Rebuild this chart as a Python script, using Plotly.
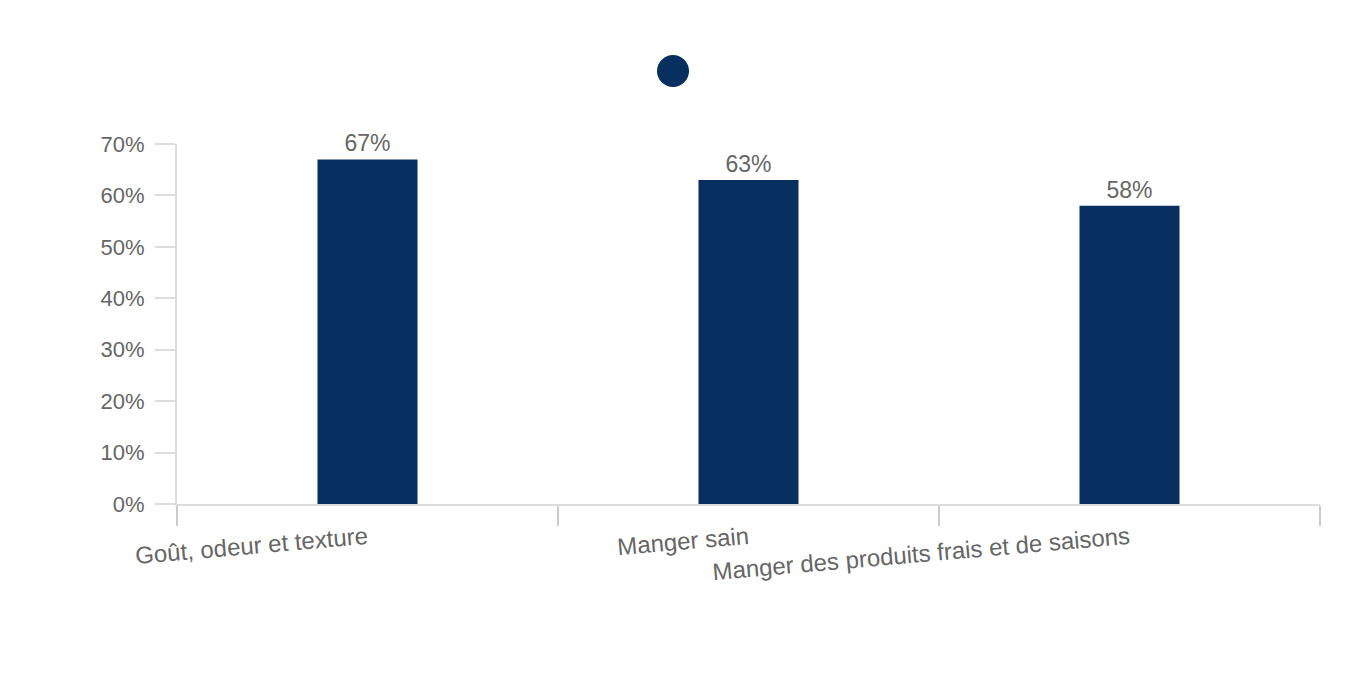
import plotly.graph_objects as go

categories = ["Goût, odeur et texture", "Manger sain", "Manger des produits frais et de saisons"]
values = [67, 63, 58]
value_labels = ["67%", "63%", "58%"]
y_ticks = [0, 10, 20, 30, 40, 50, 60, 70]
y_tick_labels = ["0%", "10%", "20%", "30%", "40%", "50%", "60%", "70%"]

NAVY = "#072f5f"
TEXT = "#666666"
AXIS = "#dddddd"
TICK = "#cccccc"
FONT = "Liberation Sans, Arial, Helvetica, sans-serif"

fig = go.Figure()
fig.add_trace(go.Bar(
    x=categories, y=values, text=value_labels, textposition="outside",
    textfont=dict(size=23, color=TEXT, family=FONT), cliponaxis=False,
    marker=dict(color=NAVY, line=dict(width=0)), width=0.2625, showlegend=False,
    hoverinfo="skip",
))

fig.update_layout(
    width=1360, height=680,
    margin=dict(l=177, r=40, t=144, b=176, autoexpand=False),
    paper_bgcolor="white", plot_bgcolor="white",
    font=dict(family=FONT, size=22, color=TEXT),
    showlegend=False,
    shapes=[dict(
        type="circle", xref="paper", yref="paper", xsizemode="pixel", ysizemode="pixel",
        xanchor=(673 - 177) / 1143, yanchor=(504 - 71) / 360,
        x0=-16, x1=16, y0=-16, y1=16,
        fillcolor=NAVY, line=dict(width=0),
    )],
)
fig.update_xaxes(
    showline=True, linecolor=AXIS, linewidth=2, showgrid=False, zeroline=False,
    ticks="outside", ticklen=20, tickcolor=TICK, tickwidth=2, tickson="boundaries",
    tickangle=-5, ticklabelstandoff=9, tickfont=dict(size=24, color=TEXT, family=FONT),
)
fig.update_yaxes(
    range=[0, 70], tickvals=y_ticks, ticktext=y_tick_labels,
    showline=True, linecolor=AXIS, linewidth=2, showgrid=False, zeroline=False,
    ticks="outside", ticklen=20, tickcolor=AXIS, tickwidth=2, ticklabelstandoff=6,
    tickfont=dict(size=22, color=TEXT, family=FONT),
)

fig.write_html("out.html")
